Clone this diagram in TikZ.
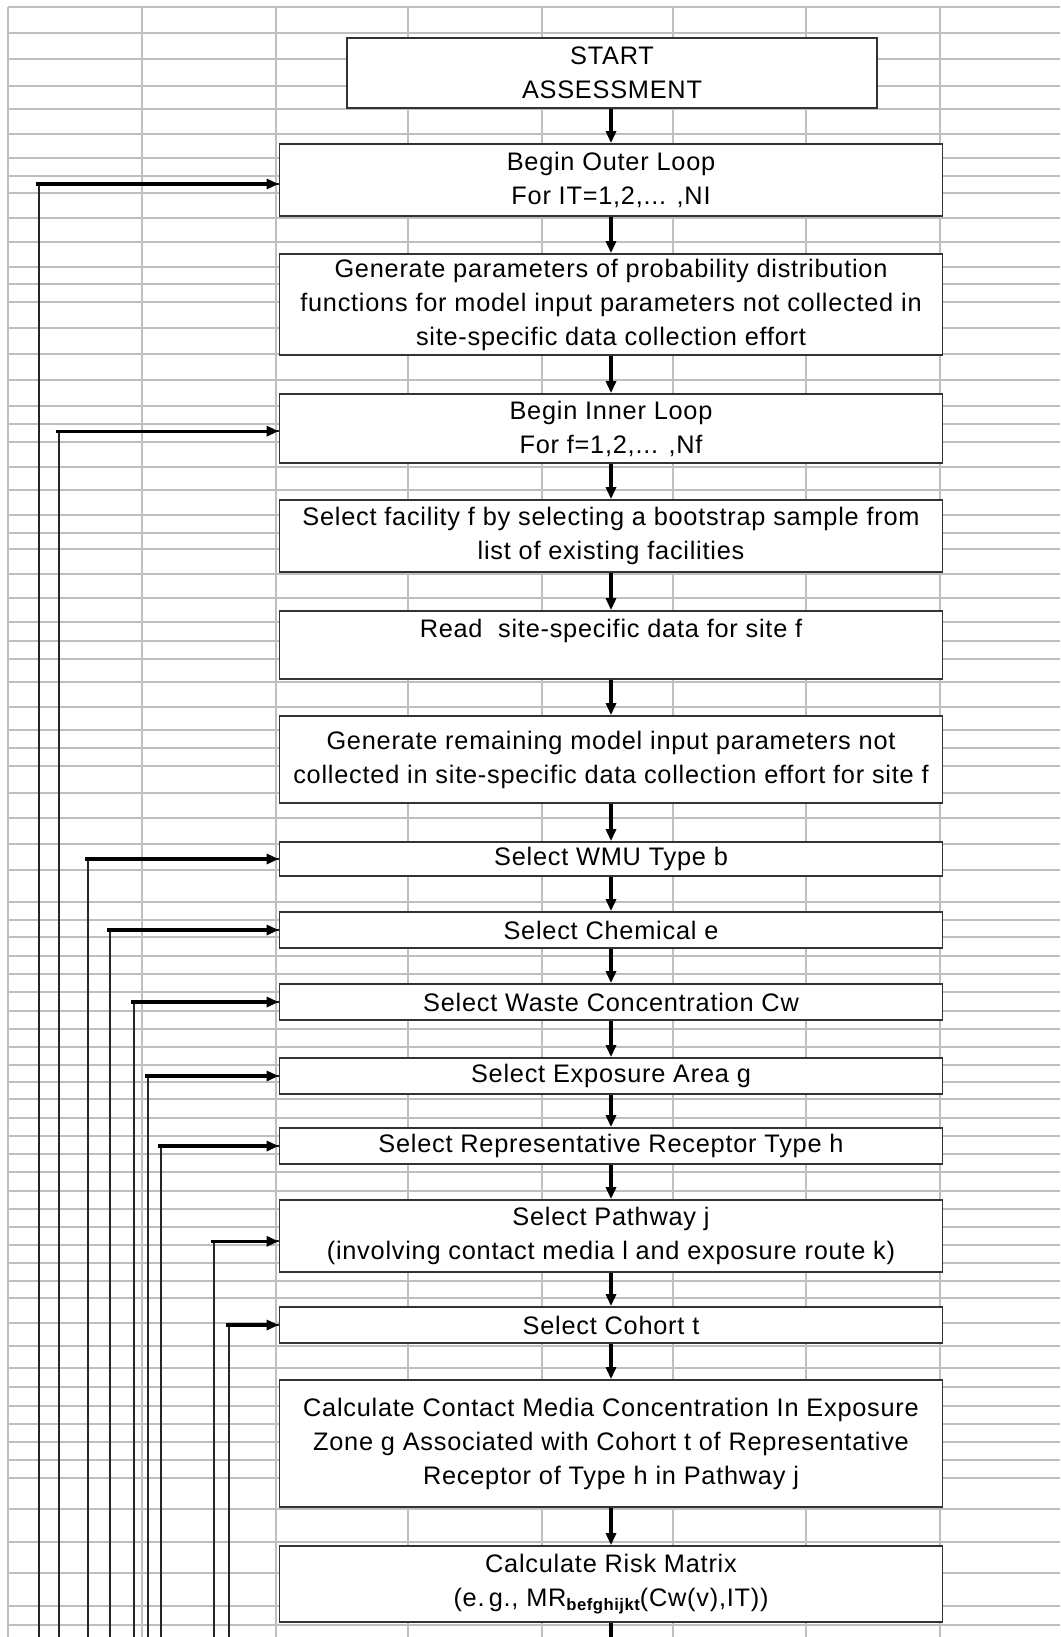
\documentclass[tikz,border=0pt]{standalone}
\usepackage{fontspec}
\setmainfont{Liberation Sans}[LetterSpace=3]
\usetikzlibrary{arrows.meta}
\tikzset{
  basic/.style   = {draw=black!80, line width=1.3pt, fill=white, rectangle,
                    align=center, inner sep=0pt,
                    font=\fontsize{19}{25.5}\selectfont},
  box/.style     = {basic, minimum width=497.25pt},
  startbox/.style = {basic, minimum width=397.5pt},
  cell/.style    = {draw=black!25, line width=1pt},
  flow/.style    = {draw=black, line width=2.3pt,
                    -{Triangle[length=9pt,width=7.5pt]}},
  loopline/.style = {draw=black!85, line width=1.4pt},
  looparrow/.style = {draw=black, line width=2.3pt, shorten <=-2pt,
                    -{Triangle[length=9pt,width=7.5pt]}}
}
\begin{document}
\begin{tikzpicture}[x=0.75pt, y=-0.75pt]
\useasboundingbox (0,0) rectangle (1060,1637);

% spreadsheet grid behind the chart
\foreach \gx in {8,142,276,408,542,673,806,940}
  \draw[cell] (\gx,7) -- (\gx,1637);
\foreach \gy in {7,33,59,86,109,134,158,176,193,218,242,267,284,302,328,354,
  380,406,424,442,467,490,515,533,549,574,598,622,641,659,682,707,730,748,766,
  793,818,844,870,902,920,937,956,974,992,1011,1029,1047,1065,1082,1099,1118,
  1136,1154,1172,1191,1209,1227,1245,1263,1281,1298,1323,1346,1368,1387,1406,
  1424,1442,1460,1478,1509,1542,1573,1606,1625}
  \draw[cell] (8,\gy) -- (1060,\gy);

% the chain of steps
\node[startbox, minimum height=52.5pt] (start) at (612,73) {START\\ASSESSMENT};
\node[box, minimum height=54pt] (outer) at (611,180)
  {Begin Outer Loop\\For IT=1,2,... ,NI};
\node[box, minimum height=75.75pt] (genpar) at (611,304.5)
  {Generate parameters of probability distribution\\functions for model input
   parameters not collected in\\site-specific data collection effort};
\node[box, minimum height=51.75pt] (inner) at (611,428.5)
  {Begin Inner Loop\\For f=1,2,... ,Nf};
\node[box, minimum height=54pt] (facility) at (611,536)
  {Select facility f by selecting a bootstrap sample from\\list of existing
   facilities};
\node[box, minimum height=51pt] (read) at (611,645)
  {Read\ \ site-specific data for site f\\\mbox{}};
\node[box, minimum height=65.25pt] (genrem) at (611,759.5)
  {Generate remaining model input parameters not\\collected in site-specific
   data collection effort for site f};
\node[box, minimum height=25.5pt] (wmu) at (611,859) {Select WMU Type b};
\node[box, minimum height=27pt] (chem) at (611,930) {Select Chemical e};
\node[box, minimum height=27pt] (waste) at (611,1002)
  {Select Waste Concentration Cw};
\node[box, minimum height=27pt] (area) at (611,1076) {Select Exposure Area g};
\node[box, minimum height=27pt] (recep) at (611,1146)
  {Select Representative Receptor Type h};
\node[box, minimum height=54pt] (path) at (611,1236)
  {Select Pathway j\\(involving contact media l and exposure route k)};
\node[box, minimum height=27pt] (cohort) at (611,1325) {Select Cohort t};
\node[box, minimum height=95.25pt] (contact) at (611,1443.5)
  {Calculate Contact Media Concentration In Exposure\\Zone g Associated with
   Cohort t of Representative\\Receptor of Type h in Pathway j};
\node[box, minimum height=57pt] (risk) at (611,1584)
  {Calculate Risk Matrix\\(e.\,g., MR\raisebox{-0.3ex}{\fontsize{12.5}{12.5}%
   \selectfont\bfseries befghijkt}(Cw(v),IT))};

% downward flow
\foreach \a/\b in {start/outer, outer/genpar, genpar/inner, inner/facility,
  facility/read, read/genrem, genrem/wmu, wmu/chem, chem/waste, waste/area,
  area/recep, recep/path, path/cohort, cohort/contact, contact/risk}
  \draw[flow] (\a.south -| outer.south) -- (\b.north -| outer.north);
\coordinate (exit) at (611,1637);
\draw[draw=black, line width=2.3pt] (risk.south) -- (exit);

% loops coming back up from below the page
\foreach \lx/\target/\dy in {39/outer/-3, 59/inner/-2, 88/wmu/0, 110/chem/0,
  134/waste/0, 148/area/0, 161/recep/0, 214/path/-4, 229/cohort/0} {
  \coordinate (foot\target) at (\lx,1637);
  \coordinate (in\target) at ([yshift=\dy pt]\target.west);
  \draw[loopline] (foot\target) |- (in\target);
  \draw[looparrow] (foot\target |- in\target) -- (in\target);
}
\end{tikzpicture}
\end{document}
